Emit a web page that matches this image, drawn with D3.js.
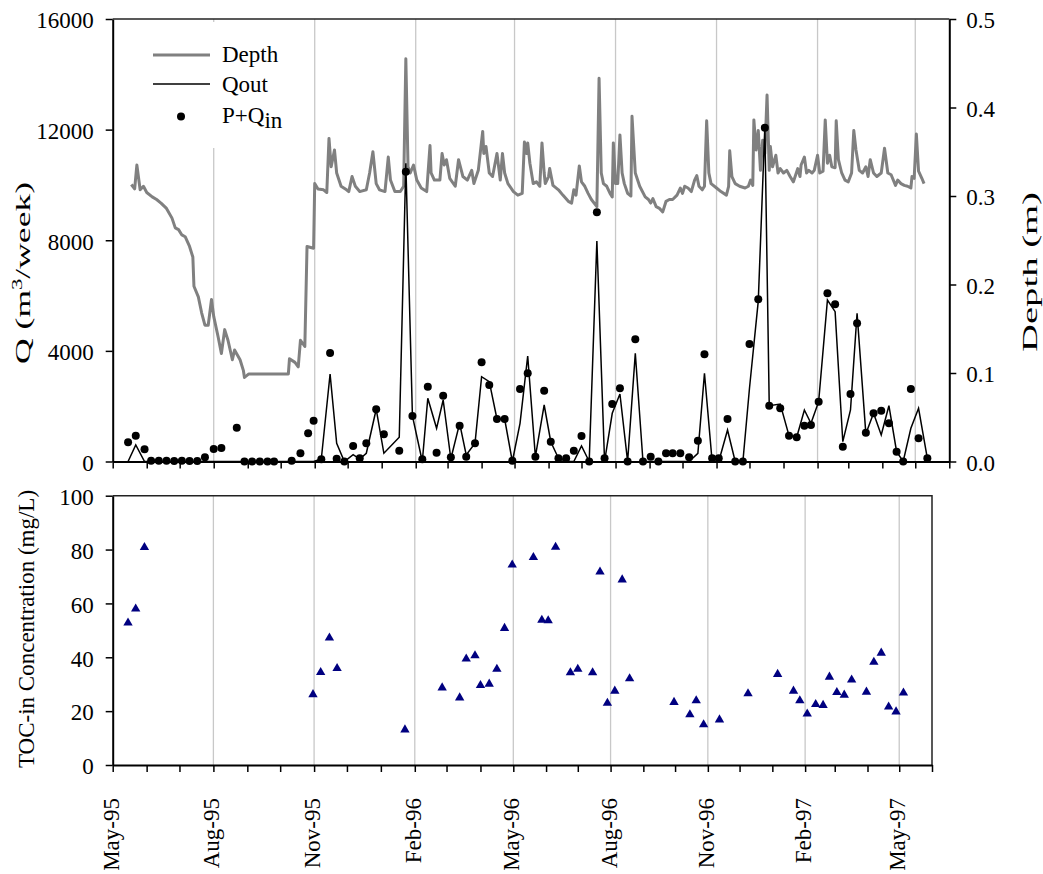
<!DOCTYPE html>
<html>
<head>
<meta charset="utf-8">
<script src="https://cdn.jsdelivr.net/npm/d3@7"></script>
<style>
  body { margin: 0; background: #fff; }
  text { font-family: "Liberation Serif", "Times New Roman", serif; fill: #000; }
</style>
</head>
<body>
<div id="chart"></div>
<script>
// weekly sampling dates for flows
const qDates = ["1995-05-15","1995-05-22","1995-05-30","1995-06-05","1995-06-12","1995-06-19","1995-06-26","1995-07-03","1995-07-10","1995-07-17",
  "1995-07-24","1995-08-01","1995-08-08","1995-08-22","1995-08-29","1995-09-05","1995-09-12","1995-09-19","1995-09-25","1995-10-11",
  "1995-10-19","1995-10-26","1995-10-31","1995-11-07","1995-11-15","1995-11-21","1995-11-28","1995-12-06","1995-12-12","1995-12-18",
  "1995-12-27","1996-01-03","1996-01-17","1996-01-23","1996-01-29","1996-02-07","1996-02-12","1996-02-20","1996-02-26","1996-03-04",
  "1996-03-12","1996-03-18","1996-03-26","1996-04-01","1996-04-08","1996-04-15","1996-04-22","1996-04-29","1996-05-06","1996-05-13",
  "1996-05-20","1996-05-28","1996-06-03","1996-06-10","1996-06-17","1996-06-24","1996-07-01","1996-07-08","1996-07-15","1996-07-22",
  "1996-07-29","1996-08-05","1996-08-12","1996-08-19","1996-08-26","1996-09-02","1996-09-09","1996-09-16","1996-09-22","1996-09-29",
  "1996-10-07","1996-10-15","1996-10-21","1996-10-28","1996-11-03","1996-11-11","1996-11-18","1996-11-25","1996-12-01","1996-12-09",
  "1996-12-15","1996-12-19","1996-12-29","1997-01-06","1997-01-13","1997-01-20","1997-01-26","1997-02-02","1997-02-10","1997-02-17",
  "1997-02-24","1997-03-03","1997-03-09","1997-03-17","1997-03-24","1997-03-31","1997-04-07","1997-04-14","1997-04-20","1997-04-27",
  "1997-05-04","1997-05-12"];

// P+Qin (m3/week)
const pQin = [694,933,441,30,30,30,20,30,20,20,
  152,452,488,1222,0,0,0,0,0,30,
  297,1020,1470,80,3923,100,0,560,116,658,
  1888,983,391,10480,1645,80,2705,318,2380,152,
  1295,174,658,3587,2766,1537,1537,30,2622,3189,
  174,2560,716,116,116,391,922,0,9011,116,
  2079,2647,0,4419,0,174,0,297,297,297,
  152,752,3876,116,116,1537,0,0,4249,5865,
  12070,2018,1924,933,875,1295,1320,2163,6082,5684,
  535,2441,4997,1041,1743,1837,1381,354,0,2622,
  839,116];

// Qout (m3/week)
const qOut = [0,597,0,0,0,0,0,0,0,0,
  0,0,0,0,0,0,0,0,0,0,
  0,0,0,90,3164,658,0,250,90,297,
  1890,297,875,10783,1645,0,2285,1200,2224,100,
  1381,235,658,3066,2886,1537,1537,0,1381,3815,
  174,2043,716,116,0,0,560,0,7973,0,
  1743,2441,0,3912,0,0,0,0,0,0,
  0,297,3189,0,0,1139,0,0,2647,5800,
  12100,2018,2079,933,875,1862,1380,2163,5840,5417,
  716,1862,5359,1000,1743,958,2018,354,0,1200,
  1924,116];

// Depth (m)
const depthDates = ["1995-05-18","1995-05-21","1995-05-23","1995-05-26","1995-05-29","1995-06-01","1995-06-06","1995-06-10","1995-06-14","1995-06-19",
  "1995-06-24","1995-06-27","1995-06-30","1995-07-03","1995-07-06","1995-07-10","1995-07-13","1995-07-14","1995-07-18","1995-07-21",
  "1995-07-24","1995-07-27","1995-07-30","1995-08-01","1995-08-05","1995-08-08","1995-08-11","1995-08-14","1995-08-18","1995-08-20",
  "1995-08-25","1995-08-28","1995-08-29","1995-09-02","1995-10-08","1995-10-09","1995-10-14","1995-10-17","1995-10-19","1995-10-23",
  "1995-10-25","1995-10-31","1995-11-01","1995-11-04","1995-11-09","1995-11-12","1995-11-14","1995-11-16","1995-11-19","1995-11-21",
  "1995-11-25","1995-11-30","1995-12-02","1995-12-05","1995-12-08","1995-12-12","1995-12-18","1995-12-21","1995-12-24","1995-12-27",
  "1995-12-30","1996-01-04","1996-01-07","1996-01-09","1996-01-13","1996-01-18","1996-01-21","1996-01-23","1996-01-25","1996-01-27",
  "1996-01-30","1996-02-02","1996-02-06","1996-02-11","1996-02-14","1996-02-15","1996-02-18","1996-02-23","1996-02-25","1996-02-27",
  "1996-02-29","1996-03-03","1996-03-08","1996-03-11","1996-03-15","1996-03-19","1996-03-23","1996-03-25","1996-03-29","1996-04-02",
  "1996-04-03","1996-04-05","1996-04-08","1996-04-11","1996-04-15","1996-04-18","1996-04-20","1996-04-22","1996-04-25","1996-04-30",
  "1996-05-04","1996-05-08","1996-05-10","1996-05-12","1996-05-13","1996-05-15","1996-05-18","1996-05-21","1996-05-24","1996-05-26",
  "1996-05-28","1996-05-29","1996-06-01","1996-06-02","1996-06-05","1996-06-10","1996-06-14","1996-06-19","1996-06-22","1996-06-24",
  "1996-06-26","1996-06-29","1996-07-01","1996-07-04","1996-07-07","1996-07-10","1996-07-15","1996-07-17","1996-07-19","1996-07-21",
  "1996-07-24","1996-07-27","1996-07-29","1996-07-30","1996-08-01","1996-08-03","1996-08-05","1996-08-07","1996-08-09","1996-08-12",
  "1996-08-15","1996-08-16","1996-08-19","1996-08-23","1996-08-28","1996-08-31","1996-09-02","1996-09-04","1996-09-07","1996-09-10",
  "1996-09-13","1996-09-16","1996-09-19","1996-09-22","1996-09-26","1996-09-29","1996-10-01","1996-10-03","1996-10-06","1996-10-09",
  "1996-10-12","1996-10-14","1996-10-16","1996-10-19","1996-10-21","1996-10-23","1996-10-25","1996-10-27","1996-11-01","1996-11-05",
  "1996-11-10","1996-11-12","1996-11-13","1996-11-15","1996-11-18","1996-11-22","1996-11-27","1996-11-30","1996-12-02","1996-12-04",
  "1996-12-05","1996-12-07","1996-12-09","1996-12-11","1996-12-13","1996-12-15","1996-12-17","1996-12-19","1996-12-20","1996-12-22",
  "1996-12-25","1996-12-27","1996-12-29","1997-01-01","1997-01-04","1997-01-07","1997-01-10","1997-01-14","1997-01-16","1997-01-17",
  "1997-01-20","1997-01-22","1997-01-24","1997-01-27","1997-01-29","1997-02-01","1997-02-03","1997-02-06","1997-02-08","1997-02-10",
  "1997-02-12","1997-02-14","1997-02-17","1997-02-18","1997-02-20","1997-02-23","1997-02-26","1997-03-01","1997-03-04","1997-03-06",
  "1997-03-08","1997-03-11","1997-03-14","1997-03-17","1997-03-19","1997-03-21","1997-03-24","1997-03-27","1997-03-31","1997-04-03",
  "1997-04-06","1997-04-09","1997-04-13","1997-04-15","1997-04-18","1997-04-21","1997-04-24","1997-04-27","1997-04-28","1997-04-30",
  "1997-05-02","1997-05-04","1997-05-07","1997-05-09"];

const depthValues = [0.313,0.308,0.335,0.307,0.311,0.304,0.299,0.296,0.292,0.286,
  0.275,0.264,0.262,0.256,0.254,0.243,0.231,0.198,0.186,0.168,
  0.154,0.154,0.183,0.164,0.141,0.122,0.149,0.137,0.115,0.126,
  0.115,0.103,0.095,0.099,0.099,0.116,0.112,0.107,0.137,0.130,
  0.243,0.241,0.314,0.308,0.307,0.304,0.365,0.333,0.352,0.326,
  0.311,0.307,0.305,0.322,0.311,0.305,0.307,0.326,0.350,0.314,
  0.307,0.305,0.344,0.318,0.305,0.305,0.311,0.455,0.333,0.326,
  0.335,0.318,0.309,0.305,0.357,0.326,0.318,0.318,0.348,0.335,
  0.341,0.320,0.311,0.341,0.322,0.318,0.329,0.314,0.329,0.373,
  0.348,0.356,0.326,0.322,0.348,0.318,0.348,0.326,0.314,0.305,
  0.301,0.303,0.361,0.348,0.360,0.337,0.314,0.316,0.311,0.360,
  0.326,0.314,0.322,0.331,0.312,0.307,0.301,0.294,0.292,0.307,
  0.301,0.334,0.316,0.311,0.303,0.296,0.288,0.433,0.326,0.314,
  0.311,0.303,0.299,0.360,0.314,0.314,0.369,0.326,0.314,0.303,
  0.300,0.390,0.326,0.311,0.299,0.296,0.292,0.297,0.288,0.286,
  0.282,0.294,0.296,0.296,0.301,0.309,0.303,0.311,0.309,0.305,
  0.318,0.323,0.311,0.307,0.311,0.385,0.326,0.314,0.309,0.305,
  0.301,0.311,0.351,0.322,0.314,0.311,0.309,0.311,0.318,0.312,
  0.386,0.352,0.374,0.329,0.363,0.348,0.414,0.329,0.356,0.333,
  0.346,0.326,0.331,0.326,0.329,0.322,0.316,0.331,0.322,0.335,
  0.344,0.326,0.329,0.326,0.329,0.346,0.326,0.328,0.386,0.337,
  0.346,0.333,0.332,0.385,0.341,0.326,0.318,0.316,0.326,0.374,
  0.352,0.329,0.326,0.333,0.322,0.341,0.326,0.322,0.326,0.354,
  0.326,0.324,0.312,0.318,0.314,0.312,0.311,0.309,0.322,0.320,
  0.370,0.328,0.320,0.314];

// TOC-in concentration (mg/L)
const tocDates = ["1995-05-15","1995-05-22","1995-05-30","1995-10-31","1995-11-07","1995-11-15","1995-11-22","1996-01-23","1996-02-26","1996-03-13",
  "1996-03-19","1996-03-27","1996-04-01","1996-04-09","1996-04-16","1996-04-23","1996-04-30","1996-05-20","1996-05-28","1996-06-03",
  "1996-06-10","1996-06-24","1996-07-01","1996-07-15","1996-07-22","1996-07-29","1996-08-05","1996-08-12","1996-08-19","1996-09-30",
  "1996-10-15","1996-10-21","1996-10-28","1996-11-12","1996-12-09","1997-01-06","1997-01-21","1997-01-27","1997-02-03","1997-02-11",
  "1997-02-18","1997-02-24","1997-03-03","1997-03-10","1997-03-17","1997-03-31","1997-04-07","1997-04-14","1997-04-21","1997-04-28",
  "1997-05-05"];
const tocValues = [52.8,58,80.8,26.2,34.4,47.2,35.9,13.1,28.7,25,
  39.4,40.6,29.6,30.1,35.6,50.8,74.3,77.1,53.8,53.6,
  80.9,34.3,35.6,34.3,71.7,23,27.5,68.8,32.1,23.3,
  18.7,23.9,15,16.8,26.5,33.7,27.5,23.9,19,22.5,
  22.2,32.7,27,26,31.6,27.1,38.2,41.6,21.6,19.8,
  26.8];

const qTicks = [0, 4000, 8000, 12000, 16000];
const depthTicks = [0, 0.1, 0.2, 0.3, 0.4, 0.5];
const tocTicks = [0, 20, 40, 60, 80, 100];

const width = 1043, height = 874;
const fontSize = "23px";
const parse = d3.timeParse("%Y-%m-%d");
const start = parse("1995-05-01"), mid = parse("1996-05-01"), end = parse("1997-06-01");

const svg = d3.select("#chart").append("svg")
  .attr("width", width)
  .attr("height", height);

// scales
const xTop = d3.scaleTime().domain([start, end]).range([112.7, 949.3]);
const xBot = d3.scaleTime().domain([start, mid, end]).range([112.7, 513.3, 932]);
const yQ = d3.scaleLinear().domain([0, 16000]).range([461.5, 19]);
const yDepth = d3.scaleLinear().domain([0, 0.5]).range([461.5, 19]);
const yToc = d3.scaleLinear().domain([0, 100]).range([765, 495.7]);

const months = d3.timeMonth.range(start, d3.timeDay.offset(end, 1));
const quarterMonths = months.filter(d => d.getMonth() % 3 === 1);
const gridMonths = quarterMonths.filter(d => +d !== +start);
const fmt = d3.timeFormat("%b-%y");

// gridlines
svg.append("g").selectAll("line").data(gridMonths).join("line")
  .attr("x1", d => xTop(d)).attr("x2", d => xTop(d))
  .attr("y1", yQ(16000)).attr("y2", yQ(0))
  .attr("stroke", "#c8c8c8").attr("stroke-width", 1.3);
svg.append("g").selectAll("line").data(gridMonths).join("line")
  .attr("x1", d => xBot(d)).attr("x2", d => xBot(d))
  .attr("y1", yToc(100)).attr("y2", yToc(0))
  .attr("stroke", "#c8c8c8").attr("stroke-width", 1.3);

// legend background hides the grid
svg.append("rect")
  .attr("x", 140).attr("y", 22).attr("width", 162).attr("height", 126)
  .attr("fill", "#fff");

// depth line
const depthData = depthDates.map((d, i) => ({date: parse(d), value: depthValues[i]}));
svg.append("path")
  .datum(depthData)
  .attr("fill", "none")
  .attr("stroke", "#808080")
  .attr("stroke-width", 3)
  .attr("stroke-linejoin", "round")
  .attr("d", d3.line().x(d => xTop(d.date)).y(d => yDepth(d.value)));

// Qout line
const qData = qDates.map((d, i) => ({date: parse(d), pq: pQin[i], out: qOut[i]}));
svg.append("path")
  .datum(qData)
  .attr("fill", "none")
  .attr("stroke", "#000")
  .attr("stroke-width", 1.5)
  .attr("d", d3.line().x(d => xTop(d.date)).y(d => yQ(d.out)));

// P+Qin points
svg.append("g").selectAll("circle").data(qData).join("circle")
  .attr("cx", d => xTop(d.date))
  .attr("cy", d => yQ(d.pq))
  .attr("r", 4)
  .attr("fill", "#000");

// TOC triangles
const tocData = tocDates.map((d, i) => ({date: parse(d), value: tocValues[i]}));
svg.append("g").selectAll("path").data(tocData).join("path")
  .attr("transform", d => `translate(${xBot(d.date)},${yToc(d.value)})`)
  .attr("d", d3.symbol().type(d3.symbolTriangle).size(38))
  .attr("fill", "#000080");

// axes
function styleAxis(g) {
  g.attr("font-size", null).attr("font-family", null);
  g.selectAll(".domain").attr("stroke", "#000").attr("stroke-width", 2);
  g.selectAll(".tick line").attr("stroke", "#000").attr("stroke-width", 1.5);
  g.selectAll(".tick text").style("font-size", fontSize);
}

svg.append("g")
  .attr("transform", "translate(112.7,0)")
  .call(d3.axisLeft(yQ).tickValues(qTicks).tickSize(7).tickSizeOuter(0).tickPadding(12).tickFormat(d3.format("d")))
  .call(styleAxis)
  .selectAll(".tick text").attr("dy", "0.38em");

svg.append("g")
  .attr("transform", "translate(949.3,0)")
  .call(d3.axisRight(yDepth).tickValues(depthTicks).tickSize(7).tickSizeOuter(0).tickPadding(10).tickFormat(d3.format(".1f")))
  .call(styleAxis)
  .selectAll(".tick text").attr("dy", "0.38em");

svg.append("g")
  .attr("transform", "translate(0,461.5)")
  .call(d3.axisBottom(xTop).tickValues(months).tickSize(7).tickSizeOuter(0).tickFormat(""))
  .call(styleAxis);

// top border of upper panel
svg.append("line")
  .attr("x1", 112.7).attr("x2", 949.3).attr("y1", 19).attr("y2", 19)
  .attr("stroke", "#222").attr("stroke-width", 1.5);

// lower panel frame
svg.append("path")
  .attr("d", `M112.7,${yToc(100)}H932V${yToc(0)}`)
  .attr("fill", "none").attr("stroke", "#222").attr("stroke-width", 1.5);

svg.append("g")
  .attr("transform", "translate(112.7,0)")
  .call(d3.axisLeft(yToc).tickValues(tocTicks).tickSize(7).tickSizeOuter(0).tickPadding(12))
  .call(styleAxis)
  .selectAll(".tick text").attr("dy", "0.38em");

svg.append("g")
  .attr("transform", `translate(0,${yToc(0)})`)
  .call(d3.axisBottom(xBot).tickValues(months).tickSize(7).tickSizeOuter(0).tickFormat(""))
  .call(styleAxis);

// rotated date labels
svg.append("g").selectAll("text").data(quarterMonths).join("text")
  .attr("transform", d => `translate(${xBot(d) + 6},798) rotate(-90)`)
  .attr("text-anchor", "end")
  .style("font-size", fontSize)
  .text(d => fmt(d));

// axis titles
const qTitle = svg.append("text")
  .attr("transform", "translate(30,273) rotate(-90)")
  .attr("text-anchor", "middle")
  .attr("textLength", 182)
  .attr("lengthAdjust", "spacingAndGlyphs")
  .style("font-size", "22px");
qTitle.append("tspan").text("Q (m");
qTitle.append("tspan").attr("dy", -8).style("font-size", "14px").text("3");
qTitle.append("tspan").attr("dy", 8).text("/week)");

svg.append("text")
  .attr("transform", "translate(1037,272) rotate(-90)")
  .attr("text-anchor", "middle")
  .attr("textLength", 160)
  .attr("lengthAdjust", "spacingAndGlyphs")
  .style("font-size", "22px")
  .text("Depth (m)");

svg.append("text")
  .attr("transform", "translate(34,629) rotate(-90)")
  .attr("text-anchor", "middle")
  .style("font-size", fontSize)
  .text("TOC-in Concentration (mg/L)");

// legend
const legend = svg.append("g");
legend.append("line")
  .attr("x1", 153).attr("x2", 210).attr("y1", 55).attr("y2", 55)
  .attr("stroke", "#808080").attr("stroke-width", 3);
legend.append("line")
  .attr("x1", 153).attr("x2", 210).attr("y1", 84).attr("y2", 84)
  .attr("stroke", "#000").attr("stroke-width", 1.5);
legend.append("circle")
  .attr("cx", 181).attr("cy", 116.5).attr("r", 4).attr("fill", "#000");
legend.append("text").attr("x", 222).attr("y", 62).style("font-size", fontSize).text("Depth");
legend.append("text").attr("x", 222).attr("y", 92).style("font-size", fontSize).text("Qout");
const pq = legend.append("text").attr("x", 222).attr("y", 122.5).style("font-size", fontSize);
pq.append("tspan").text("P+Q");
pq.append("tspan").attr("dy", 5).text("in");
</script>
</body>
</html>
